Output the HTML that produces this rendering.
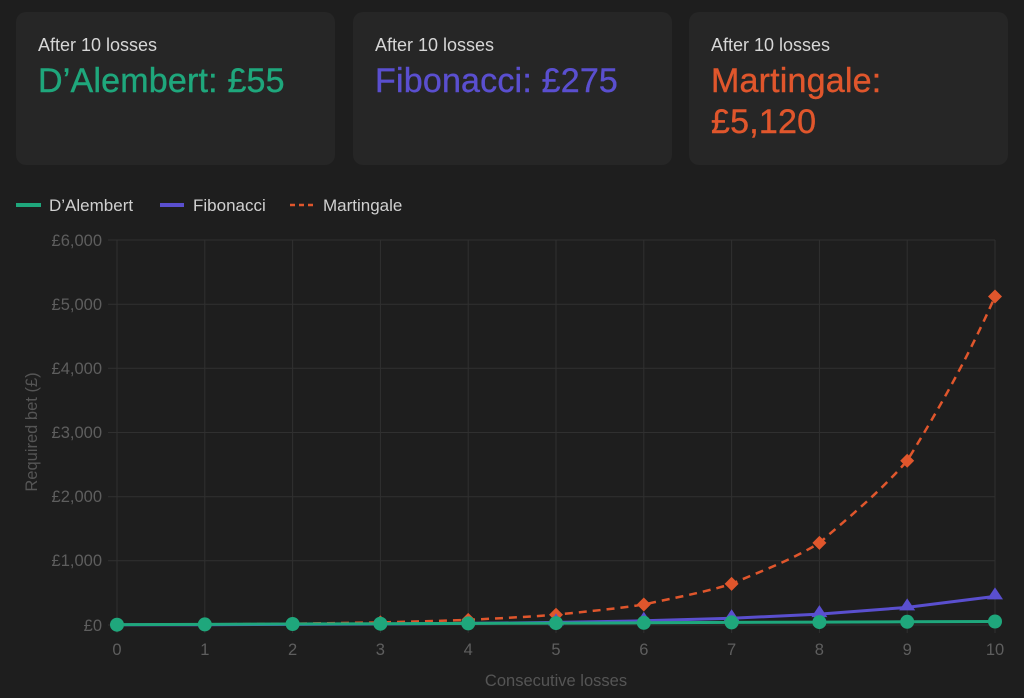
<!DOCTYPE html>
<html><head><meta charset="utf-8"><style>
body{margin:0;width:1024px;height:698px;background:#1e1e1e;font-family:"Liberation Sans",sans-serif;overflow:hidden;position:relative}
.card{position:absolute;top:12px;width:319px;height:153px;background:#262626;border-radius:10px}
.card .s{position:absolute;left:22px;top:23px;font-size:18px;color:#d6d6d6}
.card .b{position:absolute;left:22px;top:49px;font-size:34px;line-height:41px;letter-spacing:0.2px;-webkit-text-stroke:0.4px currentColor}
</style></head><body>
<div class="card" style="left:16px"><div class="s">After 10 losses</div><div class="b" style="color:#1fa77c">D’Alembert: £55</div></div>
<div class="card" style="left:353px"><div class="s">After 10 losses</div><div class="b" style="color:#5a4fcf">Fibonacci: £275</div></div>
<div class="card" style="left:689px"><div class="s">After 10 losses</div><div class="b" style="color:#e0562c">Martingale:<br>£5,120</div></div>
<svg width="1024" height="698" style="position:absolute;left:0;top:0" font-family="Liberation Sans, sans-serif">
<g font-size="17" fill="#d0d0d0">
<line x1="16" y1="205" x2="41" y2="205" stroke="#1fa77c" stroke-width="4"/><text x="49" y="211">D’Alembert</text>
<line x1="160" y1="205" x2="184" y2="205" stroke="#5a4fcf" stroke-width="4"/><text x="193" y="211">Fibonacci</text>
<line x1="290" y1="205" x2="315" y2="205" stroke="#e0562c" stroke-width="2.5" stroke-dasharray="5,4"/><text x="323" y="211">Martingale</text>
</g>
<g stroke="#303030" stroke-width="1">
<line x1="108" y1="240" x2="995" y2="240"/><line x1="108" y1="304.2" x2="995" y2="304.2"/><line x1="108" y1="368.3" x2="995" y2="368.3"/><line x1="108" y1="432.5" x2="995" y2="432.5"/><line x1="108" y1="496.7" x2="995" y2="496.7"/><line x1="108" y1="560.8" x2="995" y2="560.8"/><line x1="108" y1="625" x2="995" y2="625"/>
<line x1="117" y1="240" x2="117" y2="633"/><line x1="204.8" y1="240" x2="204.8" y2="633"/><line x1="292.6" y1="240" x2="292.6" y2="633"/><line x1="380.4" y1="240" x2="380.4" y2="633"/><line x1="468.2" y1="240" x2="468.2" y2="633"/><line x1="556" y1="240" x2="556" y2="633"/><line x1="643.8" y1="240" x2="643.8" y2="633"/><line x1="731.6" y1="240" x2="731.6" y2="633"/><line x1="819.4" y1="240" x2="819.4" y2="633"/><line x1="907.2" y1="240" x2="907.2" y2="633"/><line x1="995" y1="240" x2="995" y2="633"/>
</g>
<g font-size="16.5" fill="#5e5e5e" text-anchor="end">
<text x="102" y="246">£6,000</text><text x="102" y="310">£5,000</text><text x="102" y="374">£4,000</text><text x="102" y="438">£3,000</text><text x="102" y="502">£2,000</text><text x="102" y="566">£1,000</text><text x="102" y="631">£0</text>
</g>
<g font-size="16.5" fill="#5e5e5e" text-anchor="middle">
<text x="117" y="655">0</text><text x="204.8" y="655">1</text><text x="292.6" y="655">2</text><text x="380.4" y="655">3</text><text x="468.2" y="655">4</text><text x="556" y="655">5</text><text x="643.8" y="655">6</text><text x="731.6" y="655">7</text><text x="819.4" y="655">8</text><text x="907.2" y="655">9</text><text x="995" y="655">10</text>
<text x="556" y="686" fill="#555">Consecutive losses</text>
<text transform="translate(37,432) rotate(-90)" fill="#555">Required bet (£)</text>
</g>
<path d="M117,624.7 C146,624.6 175,624.5 204.8,624.4 C234,624.2 263,624 292.6,623.7 C322,623.3 351,622.9 380.4,622.4 C410,621.6 439,621 468.2,619.9 C498,618.3 527,617 556,614.7 C586,611.5 615,609 643.8,604.5 C673,598 702,593 731.6,583.9 C761,571 790,561 819.4,542.9 C849,517 878,494 907.2,460.7 C937,412 966,362 995,296.5" fill="none" stroke="#e0562c" stroke-width="2.5" stroke-dasharray="8,6"/>
<g fill="#e0562c">
<path d="M117,617.7l7,7l-7,7l-7,-7z"/><path d="M204.8,617.4l7,7l-7,7l-7,-7z"/><path d="M292.6,616.7l7,7l-7,7l-7,-7z"/><path d="M380.4,615.4l7,7l-7,7l-7,-7z"/><path d="M468.2,612.9l7,7l-7,7l-7,-7z"/><path d="M556,607.7l7,7l-7,7l-7,-7z"/><path d="M643.8,597.5l7,7l-7,7l-7,-7z"/><path d="M731.6,576.9l7,7l-7,7l-7,-7z"/><path d="M819.4,535.9l7,7l-7,7l-7,-7z"/><path d="M907.2,453.7l7,7l-7,7l-7,-7z"/><path d="M995,289.5l7,7l-7,7l-7,-7z"/>
</g>
<polyline points="117,624.7 204.8,624.7 292.6,624.4 380.4,624 468.2,623.4 556,622.4 643.8,620.8 731.6,618.3 819.4,614.1 907.2,607.4 995,596.4" fill="none" stroke="#5a4fcf" stroke-width="3"/>
<g fill="#5a4fcf">
<path d="M731.6,609.3l8,12h-16z"/><path d="M819.4,605.1l8,12h-16z"/><path d="M907.2,598.4l8,12h-16z"/><path d="M995,587.4l8,12h-16z"/><path d="M643.8,611.8l8,12h-16z"/><path d="M556,613.4l8,12h-16z"/>
</g>
<polyline points="117,624.7 204.8,624.4 292.6,624 380.4,623.7 468.2,623.4 556,623.1 643.8,622.8 731.6,622.4 819.4,622.1 907.2,621.8 995,621.5" fill="none" stroke="#1fa77c" stroke-width="3"/>
<g fill="#1fa77c">
<circle cx="117" cy="624.7" r="7"/><circle cx="204.8" cy="624.4" r="7"/><circle cx="292.6" cy="624" r="7"/><circle cx="380.4" cy="623.7" r="7"/><circle cx="468.2" cy="623.4" r="7"/><circle cx="556" cy="623.1" r="7"/><circle cx="643.8" cy="622.8" r="7"/><circle cx="731.6" cy="622.4" r="7"/><circle cx="819.4" cy="622.1" r="7"/><circle cx="907.2" cy="621.8" r="7"/><circle cx="995" cy="621.5" r="7"/>
</g>
</svg>
</body></html>
